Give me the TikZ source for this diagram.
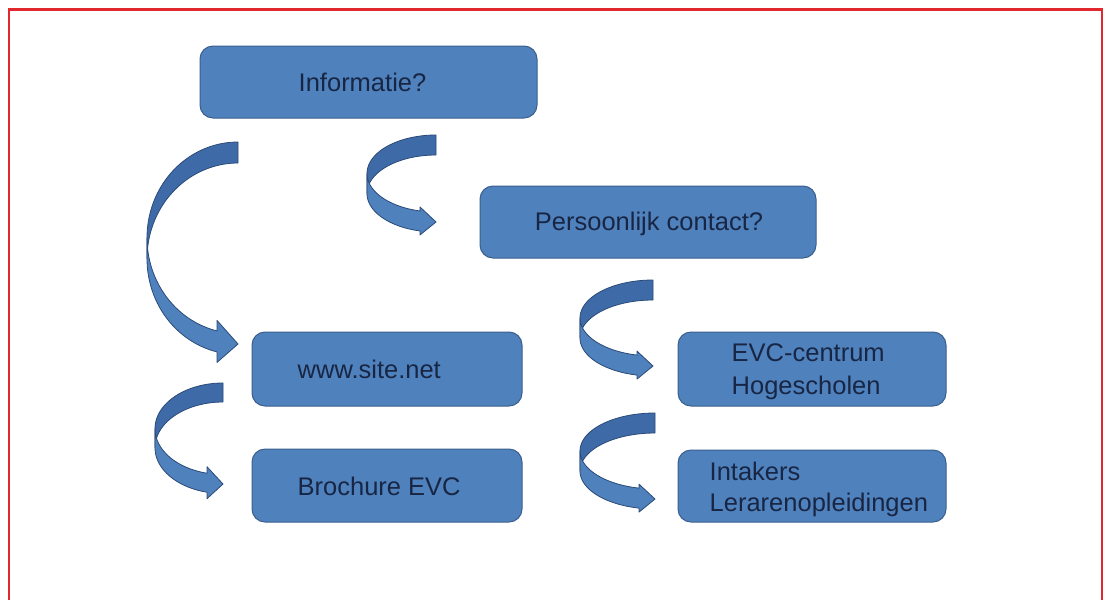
\documentclass[tikz,border=0pt]{standalone}
\usepackage{fontspec}
\setmainfont{Liberation Sans}
\usetikzlibrary{calc}
\definecolor{boxfill}{HTML}{4F81BD}
\definecolor{boxline}{HTML}{3A5F8E}
\definecolor{txtcol}{RGB}{24,38,68}
\definecolor{arrfrontcol}{HTML}{4F81BD}
\definecolor{arrbackcol}{HTML}{3E6BA8}
\definecolor{arrlinecol}{HTML}{2B4A78}
\definecolor{framecol}{HTML}{E0282E}

% curved block arrow: left, top, right, bottom, band thickness, head width, head length
\newcommand\curvedblockarrow[7]{%
  \pgfmathsetmacro\aW{#3-#1}%
  \pgfmathsetmacro\aHR{(#4-#2)/2-(#5+#6)/4}%
  \pgfmathsetmacro\aYa{#2+\aHR}%
  \pgfmathsetmacro\aYb{#2+\aHR+#5}%
  \pgfmathsetmacro\aAng{acos(-#7/\aW)}%
  \pgfmathsetmacro\aDh{(#6-#5)/2}%
  \pgfmathsetmacro\aXh{#3-#7}%
  \pgfmathsetmacro\aYv{#2+\aHR+\aHR*sin(\aAng)}%
  \pgfmathsetmacro\aYw{\aYv+#5}%
  \pgfmathsetmacro\aTip{#4-#6/2}%
  \draw[arrback] plot[domain=270:180,samples=40] ({#3+\aW*cos(\x)},{\aYa+\aHR*sin(\x)})
     -- plot[domain=180:270,samples=40] ({#3+\aW*cos(\x)},{\aYb+\aHR*sin(\x)}) -- cycle;
  \draw[arrfront] plot[domain=180:\aAng,samples=40] ({#3+\aW*cos(\x)},{\aYb+\aHR*sin(\x)})
     -- (\aXh,\aYw+\aDh) -- (#3,\aTip) -- (\aXh,\aYv-\aDh)
     -- plot[domain=\aAng:180,samples=40] ({#3+\aW*cos(\x)},{\aYa+\aHR*sin(\x)}) -- cycle;
}

\begin{document}
\begin{tikzpicture}[x=1pt,y=-1pt,
  box/.style={draw=boxline, line width=1pt, fill=boxfill, rounded corners=13pt, inner sep=0pt},
  lbl/.style={text=txtcol, inner sep=0pt, align=left, font=\fontsize{25.5}{33}\selectfont},
  arrback/.style={draw=arrlinecol, line width=0.8pt, fill=arrbackcol, line join=round},
  arrfront/.style={draw=arrlinecol, line width=0.8pt, fill=arrfrontcol, line join=round},
  frameline/.style={draw=framecol, line width=2.6pt}]
\useasboundingbox (0,0) rectangle (1111,600);
\fill[white] (0,0) rectangle (1111,600);
\draw[frameline] (8.8,600) -- (8.8,9.5) -- (1102,9.5) -- (1102,600);

% boxes
\node[box, minimum width=337pt, minimum height=72pt] (b1) at (368.5,82) {};
\node[box, minimum width=336pt, minimum height=72pt] (b2) at (648,222) {};
\node[box, minimum width=270pt, minimum height=74pt] (b3) at (387,369) {};
\node[box, minimum width=270pt, minimum height=73pt] (b4) at (387,485.5) {};
\node[box, minimum width=268pt, minimum height=74pt] (b5) at (812,369) {};
\node[box, minimum width=268pt, minimum height=72pt] (b6) at (812,486) {};

% labels
\node[lbl, anchor=base] (t1) at ($(b1.center)+(-6,9.5)$) {Informatie?};
\node[lbl, anchor=base] (t2) at ($(b2.center)+(1,8.5)$) {Persoonlijk contact?};
\node[lbl, anchor=base west] (t3) at ($(b3.west)+(46,9)$) {www.site.net};
\node[lbl, anchor=base west] (t4) at ($(b4.west)+(46,9.5)$) {Brochure EVC};
\node[lbl, anchor=west, font=\fontsize{25.5}{33.5}\selectfont] (t5) at ($(b5.west)+(54,2.5)$) {EVC-centrum\\Hogescholen};
\node[lbl, anchor=west, font=\fontsize{25.5}{31}\selectfont] (t6) at ($(b6.west)+(32,3)$) {Intakers\\Lerarenopleidingen};

% curved block arrows
\curvedblockarrow{147}{142}{238}{365}{21}{42}{21}
\curvedblockarrow{367}{135}{436}{236}{20}{28}{16}
\curvedblockarrow{580}{280}{653}{380}{20}{28}{16}
\curvedblockarrow{155}{383}{223}{500}{19}{32}{16}
\curvedblockarrow{580}{413}{655}{513}{20}{28}{16}
\end{tikzpicture}
\end{document}
